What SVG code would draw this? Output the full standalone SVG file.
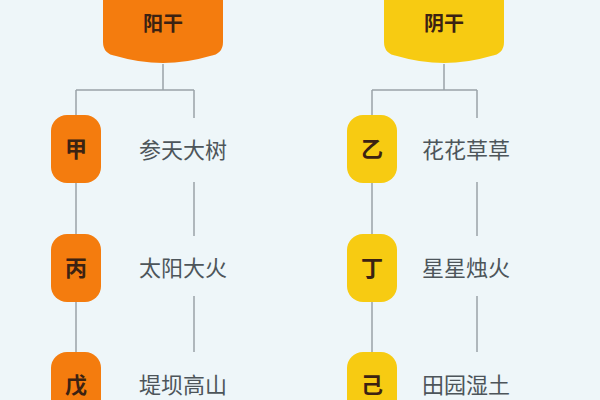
<svg xmlns="http://www.w3.org/2000/svg" width="600" height="400" viewBox="0 0 600 400">
<style>
.ln{stroke:#9aa3a8;stroke-width:1.5;fill:none}
.o{fill:#f47c0e}
.y{fill:#f7cb12}
.nt{font-family:"Noto Sans CJK SC",sans-serif;font-size:22px;font-weight:bold;fill:#3b2212;text-anchor:middle}
.ht{font-family:"Noto Sans CJK SC",sans-serif;font-size:20px;font-weight:bold;fill:#3b2212;text-anchor:middle}
.lt{font-family:"Noto Sans CJK SC",sans-serif;font-size:22px;fill:#4d555a}
</style>
<rect width="600" height="400" fill="#eef6f9"/>
<g id="connectors">
<path class="ln" d="M163 64V90M76 90H194M76 90V118M76 182V236M76 300V354M194 90V118M194 182V236M194 296V352"/>
<path class="ln" d="M444 64V90M372 90H477M372 90V118M372 182V236M372 300V354M477 90V118M477 182V236M477 296V352"/>
</g>
<g id="h1"><path class="o" d="M103 -10H223V42Q223 54 210 56Q163 70 116 56Q103 54 103 42Z"/><text class="ht" x="163" y="31">阳干</text></g>
<g id="h2"><path class="y" d="M384 -10H504V42Q504 54 491 56Q444 70 397 56Q384 54 384 42Z"/><text class="ht" x="444" y="31">阴干</text></g>
<g id="n1"><rect class="o" x="51" y="115" width="50" height="68" rx="16"/><text class="nt" x="76" y="157">甲</text></g>
<g id="n2"><rect class="o" x="51" y="234" width="50" height="68" rx="16"/><text class="nt" x="76" y="276">丙</text></g>
<g id="n3"><rect class="o" x="51" y="352" width="50" height="68" rx="16"/><text class="nt" x="76" y="393">戊</text></g>
<g id="n4"><rect class="y" x="347" y="115" width="50" height="68" rx="16"/><text class="nt" x="372" y="157">乙</text></g>
<g id="n5"><rect class="y" x="347" y="234" width="50" height="68" rx="16"/><text class="nt" x="372" y="276">丁</text></g>
<g id="n6"><rect class="y" x="347" y="352" width="50" height="68" rx="16"/><text class="nt" x="372" y="393">己</text></g>
<g id="t1"><text class="lt" x="139" y="158">参天大树</text></g>
<g id="t2"><text class="lt" x="139" y="276">太阳大火</text></g>
<g id="t3"><text class="lt" x="139" y="393">堤坝高山</text></g>
<g id="t4"><text class="lt" x="422" y="158">花花草草</text></g>
<g id="t5"><text class="lt" x="422" y="276">星星烛火</text></g>
<g id="t6"><text class="lt" x="422" y="393">田园湿土</text></g>
</svg>
